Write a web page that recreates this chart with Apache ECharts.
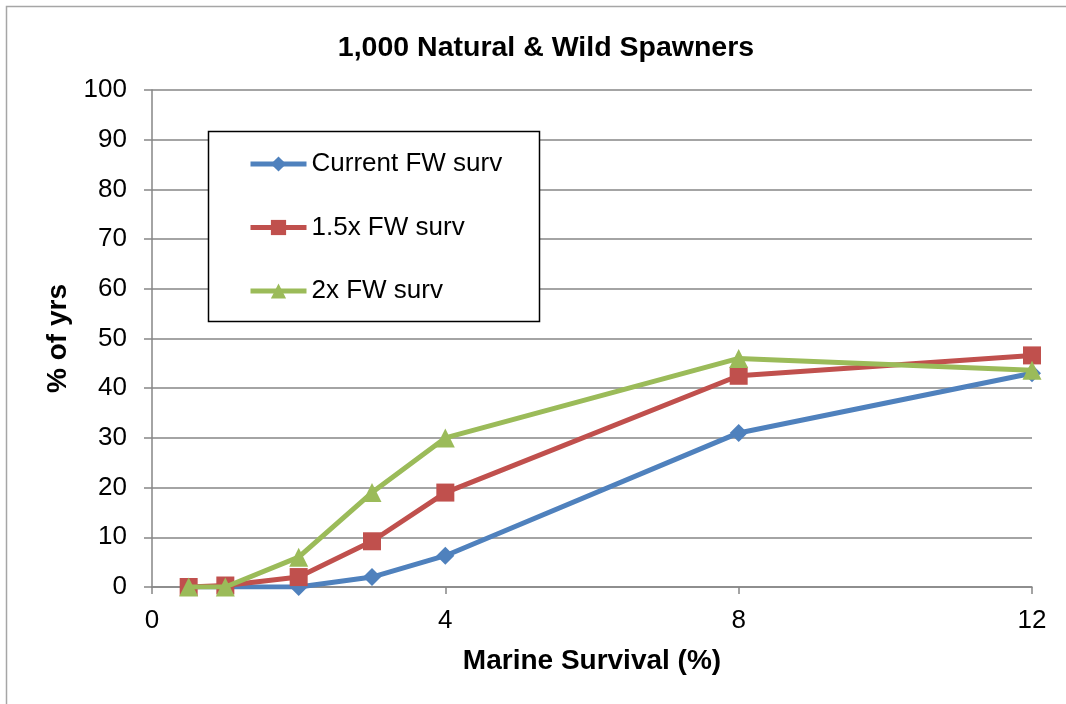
<!DOCTYPE html>
<html>
<head>
<meta charset="utf-8">
<script src="https://cdn.jsdelivr.net/npm/echarts@6/dist/echarts.min.js"></script>
<style>html,body{margin:0;padding:0;background:#fff}#c{width:1066px;height:704px}</style>
</head>
<body>
<div id="c"></div>
<script>
const marineSurvival = [0.5, 1, 2, 3, 4, 8, 12];
const currentFW = [0, 0, 0, 2, 6.3, 31, 43];
const fw15x = [0, 0.3, 2, 9.2, 19, 42.5, 46.6];
const fw2x = [0, 0, 6, 19, 30, 46, 43.6];
const seriesNames = ['Current FW surv', '1.5x FW surv', '2x FW surv'];
const xTicks = [0, 4, 8, 12];

const font = 'Liberation Sans, Arial, sans-serif';
const colors = ['#4F81BD', '#C0504D', '#9BBB59'];
const symbols = ['diamond', 'rect', 'triangle'];
const sizes = [18, 18, 19];
const allData = [currentFW, fw15x, fw2x];

const chart = echarts.init(document.getElementById('c'), null, {renderer: 'canvas'});
chart.setOption({
  animation: false,
  backgroundColor: '#fff',
  title: {
    text: '1,000 Natural & Wild Spawners',
    left: 541, top: 29, textAlign: 'center',
    textStyle: {fontFamily: font, fontSize: 28.5, fontWeight: 'bold', color: '#000'}
  },
  graphic: [
    {type: 'rect', shape: {x: 6.5, y: 6.5, width: 1080, height: 720}, style: {fill: 'none', stroke: '#a6a6a6', lineWidth: 1.5}, silent: true, z: -1},
    {type: 'rect', shape: {x: 208.5, y: 131.5, width: 331, height: 190}, style: {fill: '#fff', stroke: '#000', lineWidth: 1.5}, z: 5}
  ],
  legend: {
    orient: 'vertical',
    left: 243, top: 146,
    itemGap: 37.5,
    itemWidth: 56, itemHeight: 19,
    itemTextGap: 4,
    z: 10,
    data: seriesNames,
    lineStyle: {width: 5},
    textStyle: {fontFamily: font, fontSize: 26, lineHeight: 26, color: '#000'}
  },
  grid: {left: 152, right: 34, top: 90, bottom: 117, containLabel: false},
  xAxis: {
    type: 'value', min: 0, max: 12, interval: 4,
    name: 'Marine Survival (%)', nameLocation: 'middle', nameGap: 60,
    nameTextStyle: {fontFamily: font, fontSize: 28, fontWeight: 'bold', color: '#000'},
    axisLine: {show: true, onZero: false, lineStyle: {color: '#868686', width: 1.5}},
    axisTick: {show: true, length: 7, lineStyle: {color: '#868686', width: 1.5}},
    axisLabel: {fontFamily: font, fontSize: 26, color: '#000', margin: 21,
      formatter: v => xTicks.includes(v) ? String(v) : ''},
    splitLine: {show: false}
  },
  yAxis: {
    type: 'value', min: 0, max: 100, interval: 10,
    name: '% of yrs', nameLocation: 'middle', nameGap: 76, nameRotate: 90,
    nameTextStyle: {fontFamily: font, fontSize: 28, fontWeight: 'bold', color: '#000'},
    axisLine: {show: true, lineStyle: {color: '#868686', width: 1.5}},
    axisTick: {show: true, length: 8, lineStyle: {color: '#868686', width: 1.5}},
    axisLabel: {fontFamily: font, fontSize: 26, color: '#000', margin: 25},
    splitLine: {show: true, lineStyle: {color: '#868686', width: 1.5}}
  },
  series: seriesNames.map((n, i) => ({
    name: n,
    type: 'line',
    data: marineSurvival.map((x, j) => [x, allData[i][j]]),
    symbol: symbols[i],
    symbolSize: sizes[i],
    showAllSymbol: true,
    lineStyle: {color: colors[i], width: 5},
    itemStyle: {color: colors[i]},
    z: 2 + i
  }))
});
</script>
</body>
</html>
